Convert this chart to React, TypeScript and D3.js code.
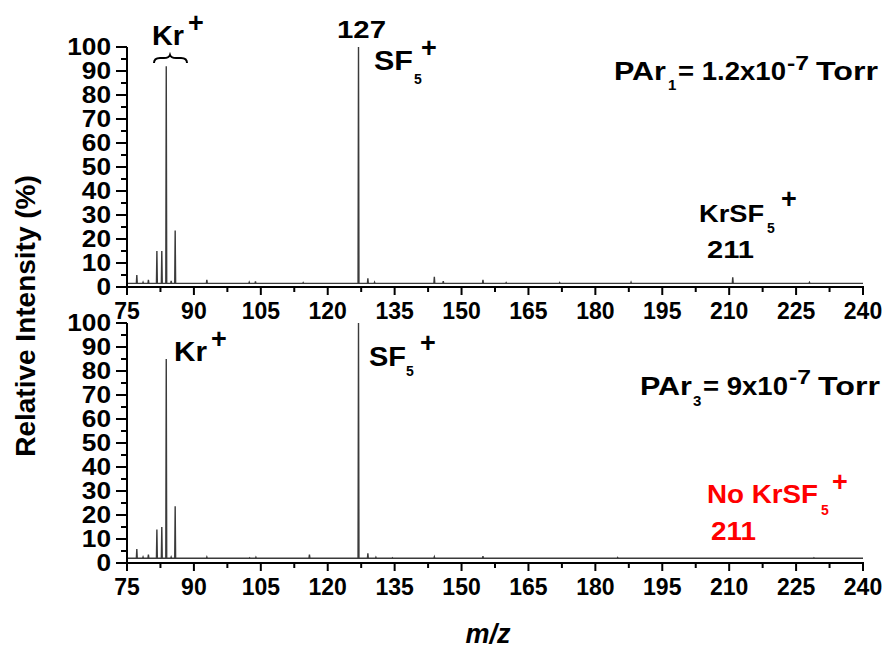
import React from 'react';
import * as d3 from 'd3';

// ---- data ----
const xTicks = [75, 90, 105, 120, 135, 150, 165, 180, 195, 210, 225, 240];
const xMinorTicks = [82.5, 97.5, 112.5, 127.5, 142.5, 157.5, 172.5, 187.5, 202.5, 217.5, 232.5];
const yTicks = [0, 10, 20, 30, 40, 50, 60, 70, 80, 90, 100];
const yMinorTicks = [5, 15, 25, 35, 45, 55, 65, 75, 85, 95];

// [m/z, relative intensity %]
const topPeaks: [number, number][] = [
  [77.2, 5], [78.6, 2], [79.8, 3], [81.7, 15], [82.8, 15], [83.8, 92], [84.9, 2.5], [85.8, 23.5],
  [92.9, 3], [102.4, 2], [103.8, 2.3], [114.5, 1.8], [126.9, 100], [129.0, 3.6], [130.5, 2],
  [143.9, 4.3], [145.9, 2.4], [154.8, 3], [160, 1.8], [172, 1.8], [188, 2], [210.8, 4], [228, 1.9],
];
const bottomPeaks: [number, number][] = [
  [77.2, 5.8], [78.6, 2.5], [79.8, 3.5], [81.7, 14], [82.8, 15], [83.8, 85], [84.9, 2.5], [85.8, 23.6],
  [92.9, 2.5], [96.0, 2], [102.5, 2.2], [103.9, 2.4], [115.9, 3.5], [126.9, 100], [129.0, 4],
  [130.8, 2.4], [134.5, 2.2], [143.9, 2.6], [154.8, 2.8], [185, 2.3], [229, 2.2],
];
const topBase = 1.5;
const bottomBase = 2;

const FONT = "'Liberation Sans', Arial, sans-serif";

const x = d3.scaleLinear().domain([75, 240]).range([127, 863]);

function Panel({ y0, y1, peaks, base }: { y0: number; y1: number; peaks: [number, number][]; base: number }) {
  const y = d3.scaleLinear().domain([0, 100]).range([y0, y1]);
  const pts: [number, number][] = [[75, base]];
  [...peaks].sort((a, b) => a[0] - b[0]).forEach(([m, h]) => {
    pts.push([m - 0.1, base], [m, h], [m + 0.1, base]);
  });
  pts.push([240, base]);
  const line = d3.line<[number, number]>().x(d => x(d[0])).y(d => y(d[1]));
  return (
    <g>
      <path d={line(pts) || ''} fill="none" stroke="#3a3a3a" strokeWidth={1.4} />
      {/* y axis */}
      <line x1={127} x2={127} y1={y(0) + 1} y2={y(100)} stroke="#000" strokeWidth={2} />
      {yTicks.map(t => (
        <g key={'y' + t}>
          <line x1={116} x2={127} y1={y(t)} y2={y(t)} stroke="#000" strokeWidth={2} />
          <text x={111} y={y(t)} dy="0.36em" textAnchor="end" fontFamily={FONT} fontWeight="bold" fontSize={23.5}
            textLength={String(t).length * 14.6} lengthAdjust="spacingAndGlyphs">{t}</text>
        </g>
      ))}
      {yMinorTicks.map(t => (
        <line key={'ym' + t} x1={121} x2={127} y1={y(t)} y2={y(t)} stroke="#000" strokeWidth={2} />
      ))}
      {/* x axis */}
      <line x1={x(75) - 1} x2={x(240) + 1} y1={y(0)} y2={y(0)} stroke="#000" strokeWidth={2} />
      {xTicks.map(t => (
        <g key={'x' + t}>
          <line x1={x(t)} x2={x(t)} y1={y(0)} y2={y(0) + 8} stroke="#000" strokeWidth={2} />
          <text x={x(t)} y={y(0) + 32} textAnchor="middle" fontFamily={FONT} fontWeight="bold" fontSize={23}>{t}</text>
        </g>
      ))}
      {xMinorTicks.map(t => (
        <line key={'xm' + t} x1={x(t)} x2={x(t)} y1={y(0)} y2={y(0) + 5} stroke="#000" strokeWidth={2} />
      ))}
    </g>
  );
}

function T({ x: tx, y: ty, size = 25, fill = '#000', len, children }: any) {
  return (
    <text x={tx} y={ty} fontFamily={FONT} fontWeight="bold" fontSize={size} fill={fill}
      textLength={len} lengthAdjust={len ? 'spacingAndGlyphs' : undefined}>{children}</text>
  );
}

export default function App() {
  return (
    <svg width={891} height={648} style={{ position: 'absolute', left: 0, top: 0, background: '#fff' }}>
      <rect width={891} height={648} fill="#fff" />
      <Panel y0={287} y1={47} peaks={topPeaks} base={topBase} />
      <Panel y0={563} y1={323} peaks={bottomPeaks} base={bottomBase} />

      {/* top annotations */}
      <T x={152} y={45} size={28} len={32}>Kr</T>
      <T x={188} y={32} size={27}>+</T>
      <path d="M154,63 Q154,58 160,58 L164,58 Q169,58 170,55 Q171,58 176,58 L181,58 Q187,58 187,63"
        fill="none" stroke="#000" strokeWidth={2} />
      <T x={337} y={38} size={23} len={49}>127</T>
      <T x={374} y={70} size={28} len={39}>SF</T>
      <T x={414} y={84} size={14}>5</T>
      <T x={421} y={57} size={27}>+</T>
      <T x={614} y={80} size={25} len={52}>PAr</T>
      <T x={668} y={90} size={15}>1</T>
      <T x={678} y={80} size={25} len={108}>= 1.2x10</T>
      <T x={787} y={70} size={21} len={22}>-7</T>
      <T x={816} y={80} size={25} len={62}>Torr</T>
      <T x={699} y={222} size={24} len={65}>KrSF</T>
      <T x={767} y={233} size={14}>5</T>
      <T x={781} y={208} size={27}>+</T>
      <T x={707} y={258} size={23} len={47}>211</T>

      {/* bottom annotations */}
      <T x={174} y={361} size={28} len={33}>Kr</T>
      <T x={211} y={348} size={27}>+</T>
      <T x={369} y={366} size={28} len={37}>SF</T>
      <T x={406} y={376} size={14}>5</T>
      <T x={420} y={352} size={27}>+</T>
      <T x={640} y={395} size={25} len={52}>PAr</T>
      <T x={693} y={406} size={15}>3</T>
      <T x={703} y={395} size={25} len={85}>= 9x10</T>
      <T x={789} y={384} size={21} len={22}>-7</T>
      <T x={818} y={395} size={25} len={62}>Torr</T>
      <T x={707} y={503} size={25} fill="#ff0000" len={111}>No KrSF</T>
      <T x={821} y={515} size={14} fill="#ff0000">5</T>
      <T x={832} y={491} size={27} fill="#ff0000">+</T>
      <T x={711} y={540} size={25} fill="#ff0000" len={45}>211</T>

      {/* axis titles */}
      <text transform="translate(35,316) rotate(-90)" textAnchor="middle" fontFamily={FONT} fontWeight="bold" fontSize={28}>Relative Intensity (%)</text>
      <text x={488} y={643} textAnchor="middle" fontFamily={FONT} fontWeight="bold" fontStyle="italic" fontSize={27}>m/z</text>
    </svg>
  );
}
